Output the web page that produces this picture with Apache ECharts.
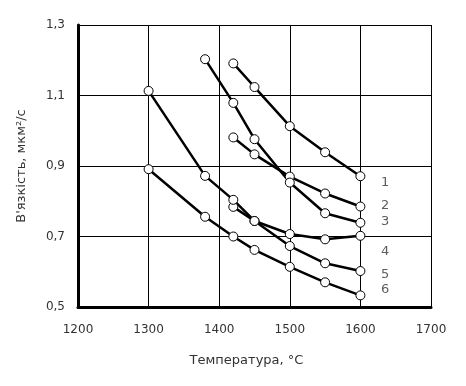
<!DOCTYPE html>
<html>
<head>
<meta charset="utf-8">
<script src="https://cdn.jsdelivr.net/npm/echarts@6/dist/echarts.min.js"></script>
<style>html,body{margin:0;padding:0;background:#fff}#c{width:466px;height:386px}</style>
</head>
<body>
<div id="c"></div>
<script>
// Data
const xTicks = [1200, 1300, 1400, 1500, 1600, 1700];
const yTicks = ['1,3', '1,1', '0,9', '0,7', '0,5'];

const t1 = [1420, 1450, 1500, 1550, 1600];
const v1 = [1.191, 1.124, 1.013, 0.939, 0.871];
const t2 = [1420, 1450, 1500, 1550, 1600];
const v2 = [0.981, 0.933, 0.870, 0.822, 0.785];
const t3 = [1380, 1420, 1450, 1500, 1550, 1600];
const v3 = [1.203, 1.079, 0.976, 0.853, 0.766, 0.739];
const t4 = [1420, 1450, 1500, 1550, 1600];
const v4 = [0.784, 0.744, 0.707, 0.692, 0.702];
const t5 = [1300, 1380, 1420, 1450, 1500, 1550, 1600];
const v5 = [1.113, 0.872, 0.804, 0.744, 0.673, 0.624, 0.602];
const t6 = [1300, 1380, 1420, 1450, 1500, 1550, 1600];
const v6 = [0.891, 0.756, 0.700, 0.662, 0.614, 0.570, 0.533];

const curveLabels = ['1', '2', '3', '4', '5', '6'];
const labelX = [1635, 1635, 1635, 1635, 1635, 1635];
const labelY = [0.852, 0.787, 0.742, 0.657, 0.591, 0.548];

const series = [[t1, v1], [t2, v2], [t3, v3], [t4, v4], [t5, v5], [t6, v6]];

const font = 'DejaVu Sans';
const txt = '#333';

const chart = echarts.init(document.getElementById('c'));
const lineSeries = series.map(([t, v]) => ({
  type: 'line',
  data: t.map((x, i) => [x, v[i]]),
  symbol: 'circle',
  symbolSize: 9,
  showAllSymbol: true,
  lineStyle: {color: '#000', width: 2.5},
  itemStyle: {color: '#fff', borderColor: '#000', borderWidth: 1},
  z: 3,
  animation: false
}));

chart.setOption({
  animation: false,
  grid: {left: 78, right: 35, top: 25, bottom: 79},
  xAxis: {
    type: 'value', min: xTicks[0], max: xTicks[xTicks.length - 1], interval: 100,
    name: 'Температура, °C', nameLocation: 'middle', nameGap: 47,
    nameTextStyle: {fontFamily: font, fontSize: 13, color: txt, padding: [0, 16, 0, 0]},
    axisLine: {lineStyle: {color: '#000', width: 3}},
    axisTick: {show: false},
    axisLabel: {fontFamily: font, fontSize: 12, color: txt, margin: 17,
      formatter: v => String(Math.round(v))},
    splitLine: {show: true, lineStyle: {color: '#000', width: 1}}
  },
  yAxis: {
    type: 'value', min: 0.5, max: 1.3, interval: 0.2,
    name: "В'язкість, мкм²/с", nameLocation: 'middle', nameGap: 50,
    nameTextStyle: {fontFamily: font, fontSize: 13, color: txt},
    axisLine: {lineStyle: {color: '#000', width: 3}},
    axisTick: {show: false},
    axisLabel: {fontFamily: font, fontSize: 12, color: txt, margin: 13,
      formatter: v => v.toFixed(1).replace('.', ',')},
    splitLine: {show: true, lineStyle: {color: '#000', width: 1}}
  },
  series: lineSeries.concat([{
    type: 'scatter',
    data: curveLabels.map((n, i) => ({value: [labelX[i], labelY[i]], name: n})),
    symbolSize: 0,
    silent: true,
    label: {show: true, position: 'inside', formatter: p => p.name,
      fontFamily: font, fontSize: 13, color: txt},
    animation: false
  }])
});
</script>
</body>
</html>
